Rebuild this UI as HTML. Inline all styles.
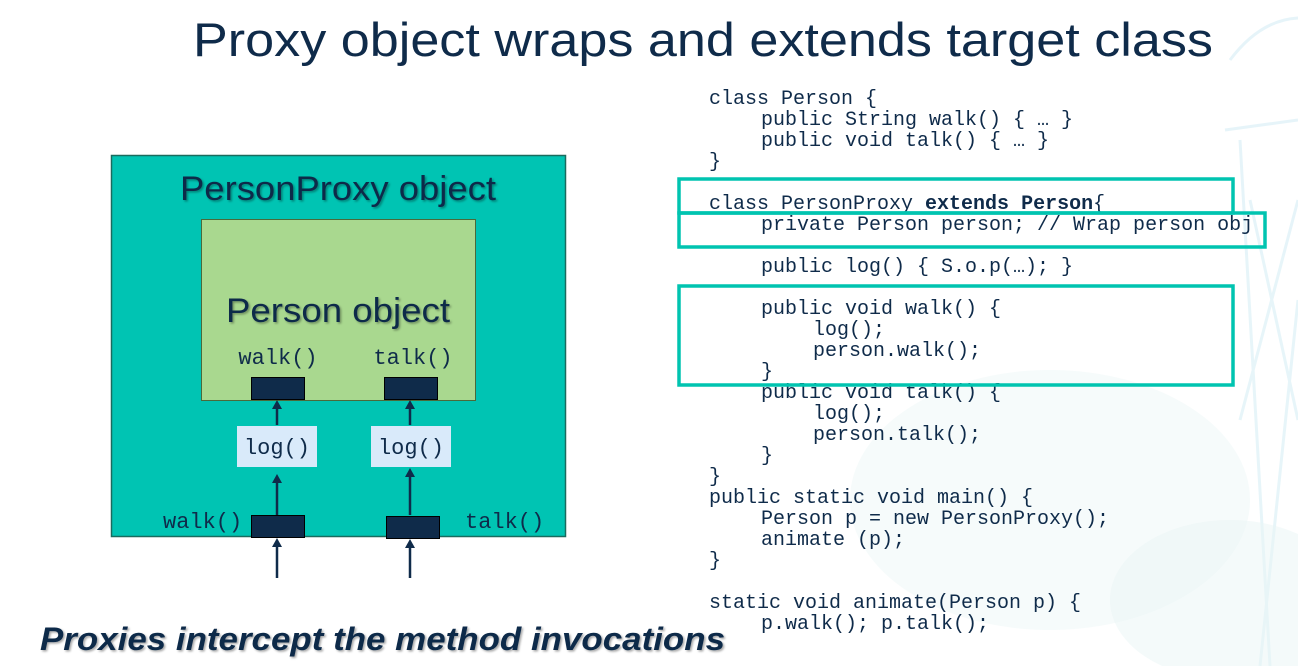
<!DOCTYPE html>
<html><head><meta charset="utf-8"><style>
html,body{margin:0;padding:0;background:#fff;width:1298px;height:666px;overflow:hidden}
svg{display:block}
.code{font-family:"Liberation Mono",monospace;font-size:20px;fill:#0f2b4a}
.mono{font-family:"Liberation Mono",monospace;fill:#0f2b4a}
.sans{font-family:"Liberation Sans",sans-serif;fill:#0f2b4a}
</style></head><body>
<svg width="1298" height="666" viewBox="0 0 1298 666" xmlns="http://www.w3.org/2000/svg">
<defs>
<filter id="sh"><feDropShadow dx="1.5" dy="1.5" stdDeviation="1" flood-color="#000" flood-opacity="0.35"/></filter>
</defs>
<!-- faint background decoration -->
<g opacity="0.25" stroke="#9fd6e8" fill="none" stroke-width="3">
<path d="M1230,60 Q1260,20 1298,18"/>
<path d="M1225,130 L1298,120"/>
<path d="M1240,140 L1270,666 M1298,300 L1260,666 M1250,200 L1298,420 M1298,200 L1240,420"/>
</g>
<ellipse cx="1050" cy="500" rx="200" ry="130" fill="#eef7f7" opacity="0.5"/>
<ellipse cx="1230" cy="600" rx="120" ry="80" fill="#eaf5f6" opacity="0.5"/>

<text class="sans" x="193" y="56" font-size="47" textLength="1020" lengthAdjust="spacingAndGlyphs">Proxy object wraps and extends target class</text>

<!-- left diagram -->
<rect x="111.5" y="155.5" width="454" height="381" fill="#00c4b3" stroke="#1a6b5e" stroke-width="1.5"/>
<text class="sans" x="338" y="200" font-size="34" text-anchor="middle" filter="url(#sh)" textLength="316" lengthAdjust="spacingAndGlyphs">PersonProxy object</text>
<rect x="201.5" y="219.5" width="274" height="181" fill="#a9d88f" stroke="#4a6a3a" stroke-width="1"/>
<text class="sans" x="338" y="322" font-size="34" text-anchor="middle" filter="url(#sh)" textLength="224" lengthAdjust="spacingAndGlyphs">Person object</text>
<text class="mono" x="278" y="364" font-size="22" text-anchor="middle">walk()</text>
<text class="mono" x="413" y="364" font-size="22" text-anchor="middle">talk()</text>
<rect x="251.5" y="377.5" width="53" height="22" fill="#0f2b4a" stroke="#000" stroke-width="1"/>
<rect x="384.5" y="377.5" width="53" height="22" fill="#0f2b4a" stroke="#000" stroke-width="1"/>
<rect x="237" y="426" width="80" height="41" fill="#d9eafa"/>
<rect x="371" y="426" width="80" height="41" fill="#d9eafa"/>
<text class="mono" x="277" y="454" font-size="22" text-anchor="middle">log()</text>
<text class="mono" x="411" y="454" font-size="22" text-anchor="middle">log()</text>
<rect x="251.5" y="515.5" width="53" height="22" fill="#0f2b4a" stroke="#000" stroke-width="1"/>
<rect x="386.5" y="516.5" width="53" height="22" fill="#0f2b4a" stroke="#000" stroke-width="1"/>
<text class="mono" x="163" y="528" font-size="22">walk()</text>
<text class="mono" x="465" y="528" font-size="22">talk()</text>
<g stroke="#0f2b4a" stroke-width="2.5">
<line x1="277" y1="425" x2="277" y2="408"/>
<line x1="410" y1="425" x2="410" y2="408"/>
<line x1="277" y1="515" x2="277" y2="482"/>
<line x1="410" y1="515" x2="410" y2="476"/>
<line x1="277" y1="578" x2="277" y2="545"/>
<line x1="410" y1="578" x2="410" y2="546"/>
</g>
<g fill="#0f2b4a">
<path d="M272,409 L277,400 L282,409 Z"/>
<path d="M405,409 L410,400 L415,409 Z"/>
<path d="M272,483 L277,474 L282,483 Z"/>
<path d="M405,477 L410,468 L415,477 Z"/>
<path d="M272,547 L277,538 L282,547 Z"/>
<path d="M405,548 L410,539 L415,548 Z"/>
</g>

<!-- code -->
<g class="code">
<text x="709" y="104">class Person {</text>
<text x="761" y="125">public String walk() { … }</text>
<text x="761" y="146">public void talk() { … }</text>
<text x="709" y="167">}</text>
<text x="709" y="209">class PersonProxy <tspan font-weight="bold">extends Person</tspan>{</text>
<text x="761" y="230">private Person person; // Wrap person obj</text>
<text x="761" y="272">public log() { S.o.p(…); }</text>
<text x="761" y="314">public void walk() {</text>
<text x="813" y="335">log();</text>
<text x="813" y="356">person.walk();</text>
<text x="761" y="377">}</text>
<text x="761" y="398">public void talk() {</text>
<text x="813" y="419">log();</text>
<text x="813" y="440">person.talk();</text>
<text x="761" y="461">}</text>
<text x="709" y="482">}</text>
<text x="709" y="503">public static void main() {</text>
<text x="761" y="524">Person p = new PersonProxy();</text>
<text x="761" y="545">animate (p);</text>
<text x="709" y="566">}</text>
<text x="709" y="608">static void animate(Person p) {</text>
<text x="761" y="629">p.walk(); p.talk();</text>
</g>
<g fill="none" stroke="#00c4b0" stroke-width="3.5">
<rect x="679" y="179" width="554" height="34"/>
<rect x="679" y="213" width="586" height="34"/>
<rect x="679" y="286" width="554" height="99"/>
</g>

<text x="40" y="650" font-family="Liberation Sans, sans-serif" font-size="32" font-weight="bold" font-style="italic" fill="#0f2b4a" filter="url(#sh)" textLength="685" lengthAdjust="spacingAndGlyphs">Proxies intercept the method invocations</text>
</svg>
</body></html>
